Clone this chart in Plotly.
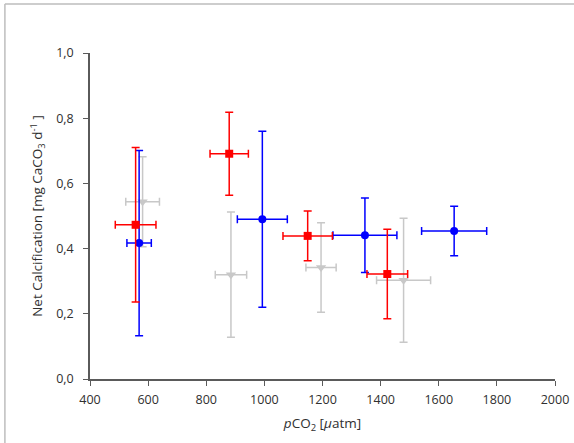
import plotly.graph_objects as go

# Red squares
red_x = [557, 879, 1149, 1423]
red_y = [0.473, 0.691, 0.439, 0.322]
red_xerr = [70, 66, 85, 70]
red_yerr = [0.237, 0.127, 0.076, 0.137]

# Blue circles
blue_x = [569, 993, 1346, 1653]
blue_y = [0.417, 0.490, 0.441, 0.454]
blue_xerr = [42, 86, 110, 112]
blue_yerr = [0.284, 0.270, 0.114, 0.076]

# Gray triangles
gray_x = [581, 885, 1195, 1479]
gray_y = [0.544, 0.320, 0.342, 0.303]
gray_xerr = [58, 54, 52, 93]
gray_yerr = [0.138, 0.192, 0.137, 0.190]

x_ticks = [400, 600, 800, 1000, 1200, 1400, 1600, 1800, 2000]
y_ticks = [0.0, 0.2, 0.4, 0.6, 0.8, 1.0]

FONT = "Open Sans"
TXT = "#303030"

def series(x, y, xe, ye, color, symbol, size):
    return go.Scatter(
        x=x, y=y, mode="markers",
        marker=dict(color=color, symbol=symbol, size=size, line=dict(width=0)),
        error_x=dict(type="data", array=xe, color=color, thickness=1.5, width=4),
        error_y=dict(type="data", array=ye, color=color, thickness=1.5, width=4),
        showlegend=False,
    )

fig = go.Figure()
fig.add_trace(series(gray_x, gray_y, gray_xerr, gray_yerr, "#C8C8C8", "triangle-down", 9))
fig.add_trace(series(blue_x, blue_y, blue_xerr, blue_yerr, "#0000FF", "circle", 8))
fig.add_trace(series(red_x, red_y, red_xerr, red_yerr, "#FF0000", "square", 8))

fig.update_layout(
    width=574, height=443,
    margin=dict(l=90, r=19, t=53, b=64, autoexpand=False),
    paper_bgcolor="white", plot_bgcolor="white",
    separators=", ",
    font=dict(family=FONT, size=12.5, color=TXT),
    xaxis=dict(
        range=[400, 2000], tickvals=x_ticks, ticktext=[str(v) for v in x_ticks],
        showgrid=False, zeroline=False, showline=True, linecolor="#5A5A5A", linewidth=1.5,
        ticks="outside", ticklen=5, tickcolor="#5A5A5A", tickwidth=1.2,
        ticklabelstandoff=3,
        tickfont=dict(size=12.5, color=TXT),
        title=dict(text="<i>p</i>CO<sub>2</sub> [<i>µ</i>atm]", font=dict(size=13.5, color=TXT), standoff=12),
    ),
    yaxis=dict(
        range=[0, 1.0], tickvals=y_ticks, tickformat=".1f",
        showgrid=False, zeroline=False, showline=True, linecolor="#5A5A5A", linewidth=1.5,
        ticks="outside", ticklen=5, tickcolor="#5A5A5A", tickwidth=1.2,
        ticklabelstandoff=7,
        tickfont=dict(size=12.5, color=TXT),
        title=dict(text="Net Calcification [mg CaCO<sub>3</sub> d<sup>-1</sup> ]", font=dict(size=13.5, color=TXT), standoff=10),
    ),
    shapes=[
        dict(type="line", xref="paper", yref="paper", x0=-0.183, x1=1.2, y0=1.150, y1=1.150,
             line=dict(color="#BDBDBD", width=1.5)),
        dict(type="line", xref="paper", yref="paper", x0=-0.183, x1=-0.183, y0=-0.3, y1=1.150,
             line=dict(color="#BDBDBD", width=1.5)),
    ],
)

fig.write_html("out.html")
